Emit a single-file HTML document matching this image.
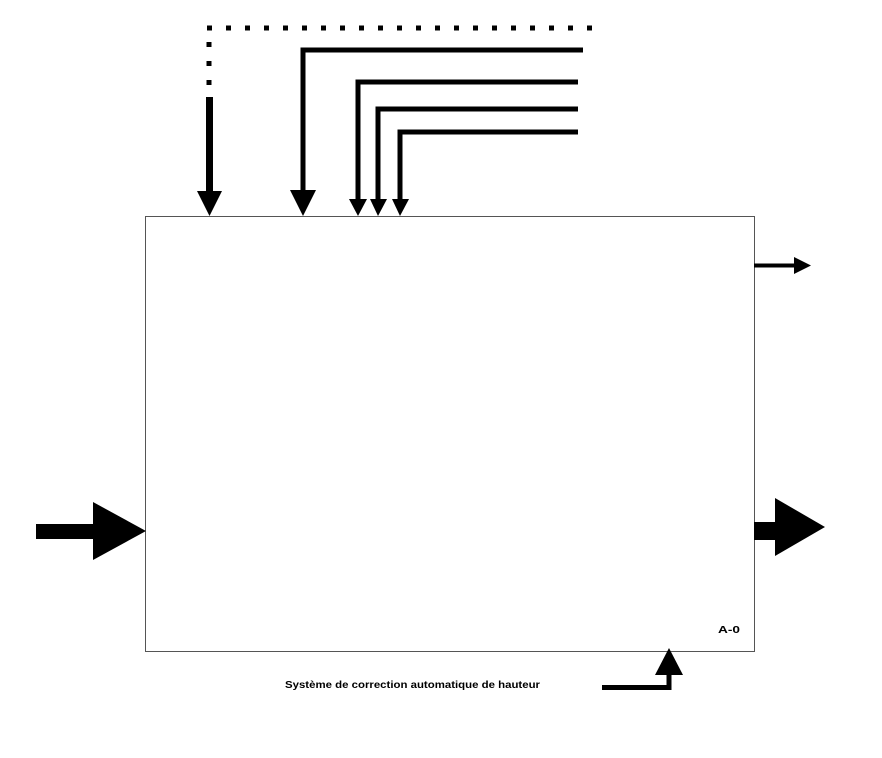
<!DOCTYPE html>
<html><head><meta charset="utf-8"><style>
html,body{margin:0;padding:0;background:#fff;width:882px;height:758px;overflow:hidden}
</style></head><body>
<svg width="882" height="758" xmlns="http://www.w3.org/2000/svg">
<rect x="145.5" y="216.5" width="609" height="435" fill="#fff" stroke="#555" stroke-width="1"/>
<line x1="207" y1="28" x2="592" y2="28" stroke="#000" stroke-width="5" stroke-dasharray="5,14"/>
<line x1="209" y1="30" x2="209" y2="92" stroke="#000" stroke-width="5" stroke-dasharray="5,14" stroke-dashoffset="-12"/>
<line x1="209.5" y1="97" x2="209.5" y2="192" stroke="#000" stroke-width="7"/>
<polygon points="197,191 222,191 209.5,216" fill="#000"/>
<polyline points="583,50 303,50 303,192" fill="none" stroke="#000" stroke-width="5"/>
<polygon points="290,190 316,190 303,216" fill="#000"/>
<polyline points="578,82 358,82 358,200" fill="none" stroke="#000" stroke-width="5"/>
<polygon points="349,199 367,199 358,216" fill="#000"/>
<polyline points="578,109 378,109 378,200" fill="none" stroke="#000" stroke-width="5"/>
<polygon points="370,199 387,199 378,216" fill="#000"/>
<polyline points="578,132 400,132 400,200" fill="none" stroke="#000" stroke-width="5"/>
<polygon points="392,199 409,199 400,216" fill="#000"/>
<line x1="754" y1="265.5" x2="796" y2="265.5" stroke="#000" stroke-width="4"/>
<polygon points="794,257 811,265.5 794,274" fill="#000"/>
<rect x="36" y="524" width="60" height="15" fill="#000"/>
<polygon points="93,502 146,531 93,560" fill="#000"/>
<rect x="754" y="522" width="23" height="18" fill="#000"/>
<polygon points="775,498 825,527 775,556" fill="#000"/>
<polyline points="602,687.5 669,687.5 669,672" fill="none" stroke="#000" stroke-width="5"/>
<polygon points="655,675 683,675 669,648" fill="#000"/>
<text x="718" y="633" font-family="Liberation Sans, sans-serif" font-size="10" font-weight="bold" textLength="22" lengthAdjust="spacingAndGlyphs">A-0</text>
<text x="285" y="688" font-family="Liberation Sans, sans-serif" font-size="10" font-weight="bold" textLength="255" lengthAdjust="spacingAndGlyphs">Système de correction automatique de hauteur</text>
</svg>
</body></html>
